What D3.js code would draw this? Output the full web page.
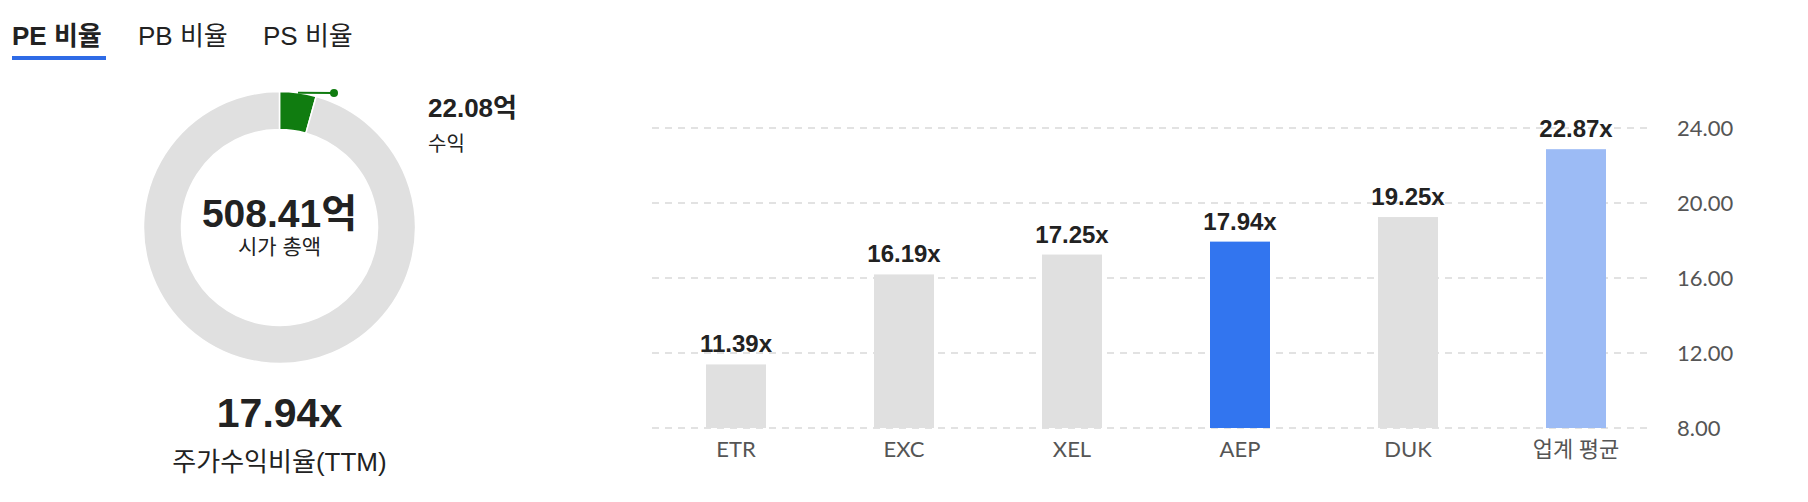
<!DOCTYPE html>
<html><head><meta charset="utf-8">
<script src="https://cdn.jsdelivr.net/npm/d3@7/dist/d3.min.js"></script>
<style>
html,body{margin:0;padding:0;background:#fff;}
svg text{font-family:"Liberation Sans",Arial,"Noto Sans CJK KR",sans-serif;}
svg text.lato{font-family:Lato,"Noto Sans CJK KR",sans-serif;}
</style></head><body>
<svg id="c" width="1808" height="502"></svg>
<script>
const tabs = ["PE 비율","PB 비율","PS 비율"];
const tabX = [12,138,263];
const marketCap = 508.41;
const earnings = 22.08;
const peRatio = 17.94;
const categories = ["ETR","EXC","XEL","AEP","DUK","업계 평균"];
const values = [11.39,16.19,17.25,17.94,19.25,22.87];
const barColors = ["#e0e0e0","#e0e0e0","#e0e0e0","#3275ef","#e0e0e0","#9cbbf5"];
const yTicks = [8,12,16,20,24];

const svg = d3.select("#c");

// tabs
svg.selectAll("text.tab").data(tabs).join("text")
  .attr("x",(d,i)=>tabX[i]).attr("y",45)
  .attr("font-size",26).attr("fill","#222")
  .attr("font-weight",(d,i)=>i===0?"bold":"normal")
  .text(d=>d);
svg.append("rect").attr("x",12).attr("y",56).attr("width",94).attr("height",4).attr("fill","#2e6be6");

// donut
const cx = 279.5, cy = 227.5, rOut = 136, rIn = 98;
const g = svg.append("g").attr("transform",`translate(${cx},${cy})`);
const pie = d3.pie().sort(null).value(d=>d.v);
const slices = pie([{k:"earn",v:earnings},{k:"rest",v:marketCap-earnings}]);
const arc = d3.arc().innerRadius(rIn).outerRadius(rOut);
g.selectAll("path").data(slices).join("path")
  .attr("d",arc).attr("fill",d=>d.data.k==="earn"?"#107c10":"#e0e0e0")
  .attr("stroke","#fff").attr("stroke-width",1.5);
// leader line
const s0 = slices[0];
const mid = (s0.startAngle+s0.endAngle)/2;
const p0 = [rOut*Math.sin(mid), -rOut*Math.cos(mid)];
const p1 = [334-cx, 93-cy];
g.append("line").attr("x1",p0[0]).attr("y1",p0[1]).attr("x2",p1[0]).attr("y2",p1[1])
  .attr("stroke","#107c10").attr("stroke-width",2);
g.append("circle").attr("cx",p1[0]).attr("cy",p1[1]).attr("r",4).attr("fill","#107c10");

svg.append("text").attr("x",428).attr("y",117).attr("font-size",26).attr("font-weight","bold").attr("fill","#222")
  .text(earnings.toFixed(2)+"억");
svg.append("text").attr("x",428).attr("y",151).attr("font-size",20).attr("fill","#222").text("수익");

svg.append("text").attr("x",cx).attr("y",227).attr("text-anchor","middle").attr("font-size",39).attr("font-weight","bold").attr("fill","#222")
  .text(marketCap.toFixed(2)+"억");
svg.append("text").attr("x",cx).attr("y",254).attr("text-anchor","middle").attr("font-size",21).attr("fill","#222").text("시가 총액");

svg.append("text").attr("x",cx).attr("y",427).attr("text-anchor","middle").attr("font-size",41).attr("font-weight","bold").attr("fill","#222")
  .text(peRatio.toFixed(2)+"x");
svg.append("text").attr("x",cx).attr("y",471).attr("text-anchor","middle").attr("font-size",26).attr("fill","#222").text("주가수익비율(TTM)");

// bar chart
const x = d3.scaleBand().domain(categories).range([652,1660]).padding(0);
const y = d3.scaleLinear().domain([8,24]).range([428,128]);
const barW = 60;

const grid = svg.append("g");
grid.selectAll("line").data(yTicks).join("line")
  .attr("x1",652).attr("x2",1653).attr("y1",d=>y(d)).attr("y2",d=>y(d))
  .attr("stroke","#d9d9d9").attr("stroke-width",1.5).attr("stroke-dasharray","7,6");

const yAxis = d3.axisRight(y).tickValues(yTicks).tickFormat(d3.format(".2f")).tickSize(0).tickPadding(0);
const ya = svg.append("g").attr("transform","translate(1677,0)").call(yAxis);
ya.select(".domain").remove();
ya.selectAll("text").attr("class","lato").attr("font-size",22).attr("fill","#555");

svg.selectAll("rect.bar").data(categories).join("rect").attr("class","bar")
  .attr("x",d=>x(d)+x.bandwidth()/2-barW/2).attr("width",barW)
  .attr("y",(d,i)=>y(values[i])).attr("height",(d,i)=>y(8)-y(values[i]))
  .attr("fill",(d,i)=>barColors[i]);

svg.selectAll("text.val").data(categories).join("text").attr("class","val")
  .attr("x",d=>x(d)+x.bandwidth()/2).attr("y",(d,i)=>y(values[i])-12)
  .attr("text-anchor","middle").attr("font-size",24).attr("font-weight","bold").attr("fill","#222")
  .text((d,i)=>values[i].toFixed(2)+"x");

const xAxis = d3.axisBottom(x).tickSize(0).tickPadding(0);
const xa = svg.append("g").attr("transform","translate(0,441)").call(xAxis);
xa.select(".domain").remove();
xa.selectAll("text").attr("class","lato").attr("font-size",22).attr("fill","#555").attr("dy","0.71em");
</script>
</body></html>
